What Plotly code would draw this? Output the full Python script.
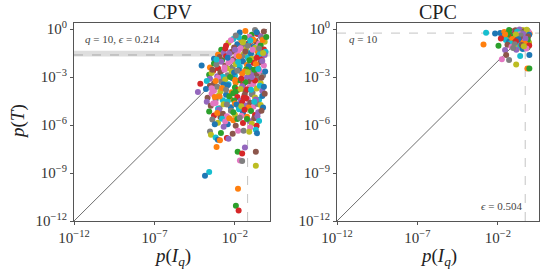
import plotly.graph_objects as go

PALETTE = ["#1f77b4", "#ff7f0e", "#2ca02c", "#d62728", "#9467bd",
           "#8c564b", "#e377c2", "#7f7f7f", "#bcbd22", "#17becf"]

# ---- CPV panel: log10 p(I_q) and log10 p(T) per point ----
cpv_log_x = [
    -1.70, -1.35, -0.95, -0.60, -0.40, -0.20, -1.10, -0.75,
    -2.40, -2.10, -1.85, -1.60, -1.40, -1.15, -0.95, -0.70, -0.50, -0.30, -0.15, -1.75, -1.25, -0.85,
    -2.85, -2.55, -2.30, -2.05, -1.80, -1.55, -1.30, -1.05, -0.85, -0.60, -0.40, -0.20, -2.70, -2.15, -1.65, -1.20, -0.75, -0.10,
    -3.30, -3.05, -2.80, -2.55, -2.35, -2.10, -1.90, -1.65, -1.45, -1.20, -1.00, -0.80, -0.55, -0.35, -0.15, -2.95, -2.20, -1.55, -0.95, -0.45, -4.07,
    -3.55, -3.30, -3.05, -2.85, -2.60, -2.40, -2.15, -1.95, -1.70, -1.50, -1.25, -1.05, -0.85, -0.60, -0.40, -0.20, -3.15, -2.50, -1.80, -1.15, -0.70,
    -3.60, -3.35, -3.10, -2.90, -2.65, -2.45, -2.20, -2.00, -1.75, -1.55, -1.30, -1.10, -0.90, -0.65, -0.45, -0.25, -3.45, -2.75, -2.05, -1.40, -0.80,
    -4.15, -3.55, -3.30, -3.05, -2.85, -2.60, -2.40, -2.15, -1.95, -1.70, -1.50, -1.25, -1.05, -0.85, -0.60, -0.40, -3.75, -2.70, -2.00, -1.35, -0.75,
    -4.30, -3.55, -3.30, -3.10, -2.90, -2.65, -2.45, -2.20, -2.00, -1.80, -1.55, -1.35, -1.10, -0.90, -0.65, -0.45, -3.80, -2.80, -1.95, -1.25, -0.30,
    -3.70, -3.45, -3.20, -3.00, -2.75, -2.55, -2.30, -2.10, -1.85, -1.65, -1.40, -1.20, -0.95, -0.75, -0.50, -0.30, -2.95, -2.05, -1.30,
    -3.75, -3.50, -3.20, -2.95, -2.70, -2.45, -2.25, -2.00, -1.75, -1.55, -1.30, -1.05, -0.85, -0.60, -0.40, -3.05, -1.90, -1.15,
    -3.60, -3.30, -3.00, -2.75, -2.50, -2.25, -2.00, -1.75, -1.50, -1.25, -1.00, -0.75, -0.55, -2.90, -1.60,
    -3.40, -3.05, -2.80, -2.45, -2.10, -1.85, -1.50, -1.10, -0.80,
    -2.25, -1.95, -1.50, -1.05, -0.65, -0.28, -0.05,
    -2.60, -2.00, -1.35, -0.90, -0.50, -0.25,
    -3.15, -2.45, -1.75, -1.10, -0.65, -0.30,
    -3.40, -2.65, -1.85, -1.20, -0.55, -0.12,
    -3.20, -2.30, -1.60, -0.95, -0.35,
    -3.45, -2.55, -1.65, -1.00, -0.20,
    -3.25, -2.35, -1.45, -0.70, -0.15,
    -3.35, -2.50, -1.60, -0.80, -0.25,
    -3.10, -2.10, -1.40, -0.60, -0.35,
    -2.60, -1.70, -0.95, -0.50,
    -3.25, -2.35, -1.25, -0.65, -2.70, -1.95, -1.05,
    -3.55, -3.49, -3.20, -3.06, -2.93, -2.87, -2.50, -2.40, -2.14, -1.80, -1.46, -1.11, -0.70, -0.63,
    -3.14, -1.83, -1.55, -1.38, -0.70, -1.69, -1.55, -0.70, -3.60, -3.86, -1.81, -1.94, -1.77,
]
cpv_log_y = [
    -0.22, -0.12, -0.35, -0.30, -0.45, -0.15, -0.48, -0.05,
    -0.85, -0.62, -0.95, -0.70, -0.55, -0.88, -0.60, -0.78, -0.92, -0.58, -0.80, -0.52, -0.98, -0.66,
    -1.30, -1.05, -1.45, -1.15, -1.35, -1.08, -1.25, -1.48, -1.12, -1.38, -1.02, -1.28, -1.48, -1.40, -1.20, -1.05, -1.18, -1.42,
    -1.85, -1.60, -1.95, -1.70, -1.55, -1.88, -1.65, -1.92, -1.58, -1.78, -1.52, -1.96, -1.68, -1.82, -1.62, -1.75, -1.98, -1.72, -1.85, -1.55, -2.27,
    -2.40, -2.15, -2.45, -2.05, -2.30, -2.10, -2.42, -2.20, -2.35, -2.02, -2.25, -2.48, -2.12, -2.38, -2.08, -2.28, -2.22, -2.46, -2.06, -2.32, -2.18,
    -2.85, -2.60, -2.95, -2.70, -2.55, -2.88, -2.65, -2.92, -2.58, -2.80, -2.52, -2.96, -2.68, -2.82, -2.62, -2.90, -2.75, -2.98, -2.72, -2.66, -2.55,
    -3.42, -3.10, -3.40, -3.05, -3.30, -3.15, -3.45, -3.08, -3.35, -3.20, -3.48, -3.02, -3.28, -3.44, -3.12, -3.38, -3.25, -3.46, -3.18, -3.32, -3.22,
    -3.94, -3.55, -3.85, -3.60, -3.90, -3.70, -3.52, -3.95, -3.65, -3.80, -3.58, -3.88, -3.62, -3.98, -3.72, -3.55, -3.75, -3.68, -3.92, -3.78, -3.85,
    -4.30, -4.05, -4.40, -4.15, -4.45, -4.10, -4.35, -4.02, -4.25, -4.48, -4.12, -4.38, -4.08, -4.28, -4.42, -4.18, -4.22, -4.46, -4.32,
    -4.55, -4.80, -4.62, -4.95, -4.70, -4.52, -4.88, -4.65, -4.92, -4.58, -4.78, -4.60, -4.85, -4.68, -4.75, -4.98, -4.72, -4.90,
    -5.15, -5.40, -5.05, -5.30, -5.45, -5.10, -5.35, -5.02, -5.25, -5.48, -5.12, -5.38, -5.20, -5.50, -5.42,
    -5.65, -5.85, -5.60, -5.95, -5.70, -5.62, -5.88, -5.75, -5.58,
    -0.70, -0.40, -0.82, -0.72, -0.20, -0.68, -0.50,
    -1.22, -1.30, -1.40, -1.30, -1.22, -1.50,
    -1.90, -1.80, -1.70, -1.95, -1.80, -2.00,
    -2.55, -2.40, -2.60, -2.70, -2.50, -2.65,
    -3.25, -3.00, -3.10, -3.00, -3.05,
    -3.70, -3.80, -3.75, -3.80, -3.60,
    -4.25, -4.20, -4.30, -4.40, -4.05,
    -4.65, -4.72, -4.82, -4.55, -4.90,
    -5.25, -5.20, -5.05, -5.45, -5.10,
    -5.78, -5.55, -5.92, -5.75,
    -5.95, -5.58, -5.62, -6.05, -6.10, -6.05, -6.15,
    -6.40, -6.61, -6.78, -6.92, -6.95, -6.50, -6.81, -6.86, -6.54, -6.36, -6.36, -6.42, -6.29, -6.51,
    -7.38, -7.67, -7.78, -7.40, -7.67, -8.21, -8.25, -8.54, -8.94, -9.17, -9.98, -11.04, -11.34,
]

# ---- CPC panel ----
cpc_log_x = [
    -1.85, -1.60, -1.40, -1.20, -1.05, -0.90, -0.75, -0.60, -0.45, -0.30, -0.15, -0.02, -1.30, -0.95, -0.65, -0.35, -0.08, -0.50, -0.20, -0.80,
    -1.70, -1.45, -1.25, -1.10, -0.95, -0.80, -0.65, -0.50, -0.35, -0.20, -0.05, -1.55, -1.00, -0.70, -0.42, -0.12, -0.28, -0.58, -0.88,
    -1.50, -1.30, -1.10, -0.95, -0.80, -0.65, -0.50, -0.35, -0.20, -0.06, -1.20, -0.72, -0.42, -0.14, -0.88, -0.28,
    -1.40, -1.15, -0.95, -0.78, -0.60, -0.45, -0.30, -0.15, -0.05, -0.85, -0.52, -0.22, -1.05, -0.38,
    -2.73, -2.17, -2.89, -1.96, -1.81, -1.55, -1.48, -1.75, -1.30, -0.86, -0.61, -0.04, -0.16, -0.04,
]
cpc_log_y = [
    -0.25, -0.18, -0.28, -0.12, -0.22, -0.08, -0.26, -0.15, -0.05, -0.20, -0.10, -0.28, -0.06, -0.30, -0.02, -0.14, -0.18, -0.24, -0.04, -0.16,
    -0.42, -0.55, -0.35, -0.50, -0.38, -0.58, -0.32, -0.48, -0.40, -0.56, -0.36, -0.33, -0.45, -0.52, -0.30, -0.46, -0.60, -0.40, -0.34,
    -0.68, -0.80, -0.62, -0.85, -0.70, -0.88, -0.65, -0.78, -0.72, -0.84, -0.90, -0.64, -0.86, -0.66, -0.76, -0.60,
    -0.98, -1.10, -0.95, -1.20, -1.05, -1.25, -0.92, -1.15, -1.02, -1.30, -1.00, -1.22, -1.18, -1.08,
    -0.23, -0.28, -0.96, -1.04, -0.59, -1.31, -1.62, -1.88, -1.94, -2.21, -1.69, -1.62, -2.46, -2.46,
]

panel_titles = ["CPV", "CPC"]
panel_notes_top = ["<i>q</i> = 10, <i>ϵ</i> = 0.214", "<i>q</i> = 10"]
cpc_eps_note = "<i>ϵ</i> = 0.504"
cpv_vline = 0.0614
cpv_band = (0.0195, 0.0437)
cpv_hline = 0.024
cpc_vline = 0.504
cpc_hline = 0.56

x_tick_vals = [1e-12, 1e-7, 1e-2]
x_tick_text = ["10<sup>−12</sup>", "10<sup>−7</sup>", "10<sup>−2</sup>"]
y_tick_vals = [1e-12, 1e-9, 1e-6, 1e-3, 1e0]
y_tick_text = ["10<sup>−12</sup>", "10<sup>−9</sup>", "10<sup>−6</sup>", "10<sup>−3</sup>", "10<sup>0</sup>"]

W, H = 540, 274
FONT = "Liberation Serif"
LEFT_XR = (-12, 0.18)
RIGHT_XR = (-12, 0.56)
YR = (-12, 0.38)


def colors_for(n):
    return [PALETTE[i % 10] for i in range(n)]


fig = go.Figure()


def line_trace(xs, ys, ax, color, dash="solid", width=1.0):
    return go.Scatter(x=xs, y=ys, mode="lines", line=dict(color=color, width=width, dash=dash),
                      xaxis="x" + ax, yaxis="y" + ax, showlegend=False, hoverinfo="skip")


ylo, yhi = 10 ** YR[0], 10 ** YR[1]
# CPV band
fig.add_trace(go.Scatter(x=[10 ** LEFT_XR[0], 10 ** LEFT_XR[1], 10 ** LEFT_XR[1], 10 ** LEFT_XR[0]],
                         y=[cpv_band[0], cpv_band[0], cpv_band[1], cpv_band[1]],
                         mode="lines", fill="toself", fillcolor="#dedede", line=dict(width=0),
                         xaxis="x", yaxis="y", showlegend=False, hoverinfo="skip"))
fig.add_trace(line_trace([10 ** LEFT_XR[0], 10 ** LEFT_XR[1]], [cpv_hline, cpv_hline], "", "#aaaaaa", "dash"))
fig.add_trace(line_trace([cpv_vline, cpv_vline], [ylo, yhi], "", "#c4c4c4", "dash"))
fig.add_trace(line_trace([10 ** RIGHT_XR[0], 10 ** RIGHT_XR[1]], [cpc_hline, cpc_hline], "2", "#c4c4c4", "dash"))
fig.add_trace(line_trace([cpc_vline, cpc_vline], [ylo, yhi], "2", "#c4c4c4", "dash"))

# diagonals
for ax in ["", "2"]:
    fig.add_trace(line_trace([1e-12, 1.0], [1e-12, 1.0], ax, "#6e6e6e"))

fig.add_trace(go.Scatter(x=[10 ** v for v in cpv_log_x], y=[10 ** v for v in cpv_log_y],
                         mode="markers", marker=dict(size=6, color=colors_for(len(cpv_log_x)), line=dict(width=0)),
                         xaxis="x", yaxis="y", showlegend=False))
fig.add_trace(go.Scatter(x=[10 ** v for v in cpc_log_x], y=[10 ** v for v in cpc_log_y],
                         mode="markers", marker=dict(size=6, color=colors_for(len(cpc_log_x)), line=dict(width=0)),
                         xaxis="x2", yaxis="y2", showlegend=False))

axis_common = dict(type="log", showgrid=False, zeroline=False, showline=True, mirror=True,
                   linecolor="#555555", linewidth=1.2, ticks="outside", ticklen=3, tickwidth=1,
                   tickcolor="#555555", tickfont=dict(family=FONT, size=15, color="#333333"),
                   tickmode="array", automargin=False)

y0d, y1d = 1 - 221 / H, 1 - 23 / H
fig.update_layout(
    width=W, height=H, margin=dict(l=0, r=0, t=0, b=0, pad=0),
    paper_bgcolor="white", plot_bgcolor="white",
    xaxis=dict(axis_common, domain=[74 / W, 270 / W], range=list(LEFT_XR), anchor="y",
               tickvals=x_tick_vals, ticktext=x_tick_text),
    yaxis=dict(axis_common, domain=[y0d, y1d], range=list(YR), anchor="x",
               tickvals=y_tick_vals, ticktext=y_tick_text),
    xaxis2=dict(axis_common, domain=[337 / W, 539 / W], range=list(RIGHT_XR), anchor="y2",
                tickvals=x_tick_vals, ticktext=x_tick_text),
    yaxis2=dict(axis_common, domain=[y0d, y1d], range=list(YR), anchor="x2",
                tickvals=y_tick_vals, ticktext=y_tick_text),
)

ann = []
centers = [(74 + 270) / 2 / W, (337 + 539) / 2 / W]
for c, t in zip(centers, panel_titles):
    ann.append(dict(text=t, x=c, y=1 - 12 / H, xref="paper", yref="paper", showarrow=False,
                    font=dict(family=FONT, size=20, color="#222222"), xanchor="center", yanchor="middle"))
    ann.append(dict(text="<i>p</i>(<i>I<sub>q</sub></i>)", x=c, y=1 - 257 / H, xref="paper", yref="paper",
                    showarrow=False, font=dict(family=FONT, size=19, color="#222222"),
                    xanchor="center", yanchor="middle"))
ann.append(dict(text="<i>p</i>(<i>T</i>)", x=18 / W, y=(y0d + y1d) / 2, xref="paper", yref="paper",
                showarrow=False, textangle=-90, font=dict(family=FONT, size=19, color="#222222"),
                xanchor="center", yanchor="middle"))
ann.append(dict(text=panel_notes_top[0], x=83 / W, y=1 - 39 / H, xref="paper", yref="paper", showarrow=False,
                font=dict(family=FONT, size=11, color="#444444"), xanchor="left", yanchor="middle"))
ann.append(dict(text=panel_notes_top[1], x=347 / W, y=1 - 39 / H, xref="paper", yref="paper", showarrow=False,
                font=dict(family=FONT, size=11, color="#444444"), xanchor="left", yanchor="middle"))
ann.append(dict(text=cpc_eps_note, x=524 / W, y=1 - 206 / H, xref="paper", yref="paper", showarrow=False,
                font=dict(family=FONT, size=11, color="#444444"), xanchor="right", yanchor="middle"))
fig.update_layout(annotations=ann)

fig.write_html("out.html", config={"displayModeBar": False},
               post_script="document.body.style.margin='0px';")
